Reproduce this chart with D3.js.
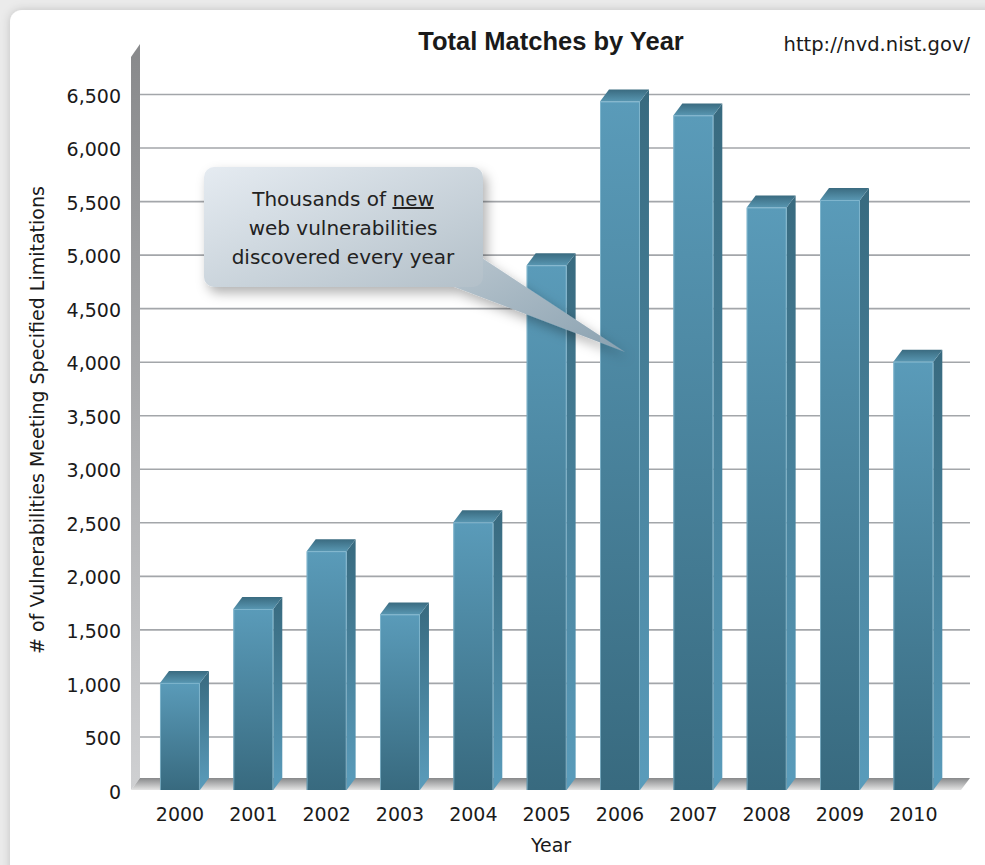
<!DOCTYPE html>
<html>
<head>
<meta charset="utf-8">
<script src="https://cdnjs.cloudflare.com/ajax/libs/d3/7.8.5/d3.min.js"></script>
<style>
  html, body { margin: 0; padding: 0; background: #ebebeb; }
  svg { display: block; }
  text { font-family: "DejaVu Sans", Verdana, sans-serif; fill: #1a1a1a; }
</style>
</head>
<body>
<svg id="chart" width="985" height="865"></svg>
<script>
var years = ["2000", "2001", "2002", "2003", "2004", "2005", "2006", "2007", "2008", "2009", "2010"];
var matches = [1000, 1690, 2230, 1640, 2500, 4900, 6430, 6300, 5440, 5510, 4000];
var yTicks = [0, 500, 1000, 1500, 2000, 2500, 3000, 3500, 4000, 4500, 5000, 5500, 6000, 6500];
var calloutLines = ["Thousands of ", "web vulnerabilities", "discovered every year"];

var svg = d3.select("#chart");
var defs = svg.append("defs");
var font = "'DejaVu Sans', Verdana, sans-serif";

// depth of the fake 3d
var dx = 9, dy = 12;

var x = d3.scaleBand()
    .domain(years)
    .range([143.3, 950])
    .paddingInner(0.455)
    .paddingOuter(0.2275);

var y = d3.scaleLinear()
    .domain([0, 6500])
    .range([790, 94]);

function lin(id, x1, y1, x2, y2, stops) {
	var g = defs.append("linearGradient").attr("id", id)
	    .attr("x1", x1).attr("y1", y1).attr("x2", x2).attr("y2", y2);
	stops.forEach(function (s) {
		g.append("stop").attr("offset", s[0]).attr("stop-color", s[1]);
	});
}
lin("front", 0, 0, 0, 1, [[0, "#5a9bb9"], [1, "#386a7f"]]);
lin("side", 0, 0, 0, 1, [[0, "#386a7f"], [1, "#5a9cbb"]]);
lin("top", 0, 0, 0, 1, [[0, "#3a6b80"], [1, "#5896b1"]]);
lin("wall", 0, 0, 0, 1, [[0, "#88898b"], [1, "#cfd0d2"]]);
lin("floor", 0, 0, 0, 1, [[0, "#87888a"], [1, "#e4e4e4"]]);
lin("bubble", 0, 0, 1, 1, [[0, "#e5ebf1"], [1, "#b3c0c9"]]);
lin("tail", 0, 0, 1, 1, [[0, "#b8c5ce"], [1, "#8aa1b0"]]);

var shadow = defs.append("filter").attr("id", "shadow")
    .attr("x", "-10%").attr("y", "-10%").attr("width", "130%").attr("height", "140%");
shadow.append("feDropShadow").attr("dx", 0).attr("dy", 0)
    .attr("stdDeviation", 5).attr("flood-color", "#000").attr("flood-opacity", 0.18);

var bshadow = defs.append("filter").attr("id", "bshadow")
    .attr("x", "-20%").attr("y", "-20%").attr("width", "150%").attr("height", "160%");
bshadow.append("feDropShadow").attr("dx", 4).attr("dy", 6)
    .attr("stdDeviation", 6).attr("flood-color", "#000").attr("flood-opacity", 0.3);

// card
svg.append("rect")
    .attr("x", 10).attr("y", 10)
    .attr("width", 1000).attr("height", 900)
    .attr("rx", 12)
    .style("fill", "#fff")
    .attr("filter", "url(#shadow)");

// left wall and floor
var x0 = 140, x1 = 970;
svg.append("path")
    .attr("d", "M" + (x0 - dx) + "," + (y(0)) + "L" + (x0 - dx) + "," + 57 +
        "L" + x0 + "," + 44 + "L" + x0 + "," + (y(0) - dy) + "Z")
    .style("fill", "url(#wall)");
svg.append("path")
    .attr("d", "M" + (x0 - dx) + "," + y(0) + "L" + x0 + "," + (y(0) - dy) +
        "L" + x1 + "," + (y(0) - dy) + "L" + (x1 - dx) + "," + y(0) + "Z")
    .style("fill", "url(#floor)");

// gridlines
svg.append("g").selectAll("line")
    .data(yTicks.filter(function (d) { return d > 0; }))
  .enter().append("line")
    .attr("x1", x0).attr("x2", x1)
    .attr("y1", function (d) { return y(d) + 0.5; })
    .attr("y2", function (d) { return y(d) + 0.5; })
    .style("stroke", "#a3a6aa")
    .style("stroke-width", 1.6);

// y axis labels
var yAxis = d3.axisLeft(y).tickValues(yTicks).tickSize(0).tickPadding(0)
    .tickFormat(d3.format(","));
svg.append("g")
    .attr("transform", "translate(121,2)")
    .call(yAxis)
    .call(function (g) { g.select(".domain").remove(); })
    .selectAll("text")
    .style("font-family", font)
    .style("font-size", "19px")
    .style("fill", "#1a1a1a");

// x axis labels
var xAxis = d3.axisBottom(x).tickSize(0).tickPadding(0);
svg.append("g")
    .attr("transform", "translate(0,807)")
    .call(xAxis)
    .call(function (g) { g.select(".domain").remove(); })
    .selectAll("text")
    .style("font-family", font)
    .style("font-size", "19px")
    .style("fill", "#1a1a1a");

// bars
var w = x.bandwidth();
var bar = svg.append("g").selectAll("g.bar")
    .data(years.map(function (d, i) { return { year: d, value: matches[i] }; }))
  .enter().append("g").classed("bar", true);

bar.append("path")
    .attr("d", function (d) {
    	var bx = x(d.year) + w, ty = y(d.value);
    	return "M" + bx + "," + ty + "L" + (bx + dx) + "," + (ty - dy) +
    	    "L" + (bx + dx) + "," + (y(0) - dy) + "L" + bx + "," + y(0) + "Z";
    })
    .style("fill", "url(#side)");
bar.append("path")
    .attr("d", function (d) {
    	var bx = x(d.year), ty = y(d.value);
    	return "M" + bx + "," + ty + "L" + (bx + dx) + "," + (ty - dy) +
    	    "L" + (bx + w + dx) + "," + (ty - dy) + "L" + (bx + w) + "," + ty + "Z";
    })
    .style("fill", "url(#top)");
bar.append("rect")
    .attr("x", function (d) { return x(d.year); })
    .attr("y", function (d) { return y(d.value); })
    .attr("width", w)
    .attr("height", function (d) { return y(0) - y(d.value); })
    .style("fill", "url(#front)");
bar.append("path")
    .attr("d", function (d) {
    	var bx = x(d.year), ty = y(d.value);
    	return "M" + (bx + 0.5) + "," + y(0) + "L" + (bx + 0.5) + "," + (ty + 0.5) +
    	    "L" + (bx + w - 0.5) + "," + (ty + 0.5) + "L" + (bx + w - 0.5) + "," + y(0);
    })
    .style("fill", "none")
    .style("stroke", "#8fc0d6")
    .style("stroke-opacity", 0.7)
    .style("stroke-width", 1);

// titles
svg.append("text")
    .attr("x", 551).attr("y", 50)
    .attr("text-anchor", "middle")
    .style("font-family", "'Liberation Sans', Arial, sans-serif")
    .style("font-weight", "bold")
    .style("font-size", "25.5px")
    .text("Total Matches by Year");
svg.append("text")
    .attr("x", 970).attr("y", 51)
    .attr("text-anchor", "end")
    .style("font-size", "19.5px")
    .text("http://nvd.nist.gov/");
svg.append("text")
    .attr("x", 551).attr("y", 852)
    .attr("text-anchor", "middle")
    .style("font-size", "19px")
    .text("Year");
svg.append("text")
    .attr("transform", "translate(44,420) rotate(-90)")
    .attr("text-anchor", "middle")
    .style("font-size", "19px")
    .text("# of Vulnerabilities Meeting Specified Limitations");

// callout bubble
var callout = svg.append("g").attr("filter", "url(#bshadow)");
callout.append("path")
    .attr("d", "M452,286L625,352L482,258Z")
    .style("fill", "url(#tail)");
callout.append("rect")
    .attr("x", 204).attr("y", 167)
    .attr("width", 279).attr("height", 120)
    .attr("rx", 10)
    .style("fill", "url(#bubble)");

var ct = svg.append("text")
    .attr("text-anchor", "middle")
    .style("font-size", "20px")
    .style("fill", "#222");
var t1 = ct.append("tspan").attr("x", 343).attr("y", 206).text(calloutLines[0]);
t1.append("tspan").style("text-decoration", "underline").text("new");
ct.append("tspan").attr("x", 343).attr("y", 235).text(calloutLines[1]);
ct.append("tspan").attr("x", 343).attr("y", 264).text(calloutLines[2]);
</script>
</body>
</html>
